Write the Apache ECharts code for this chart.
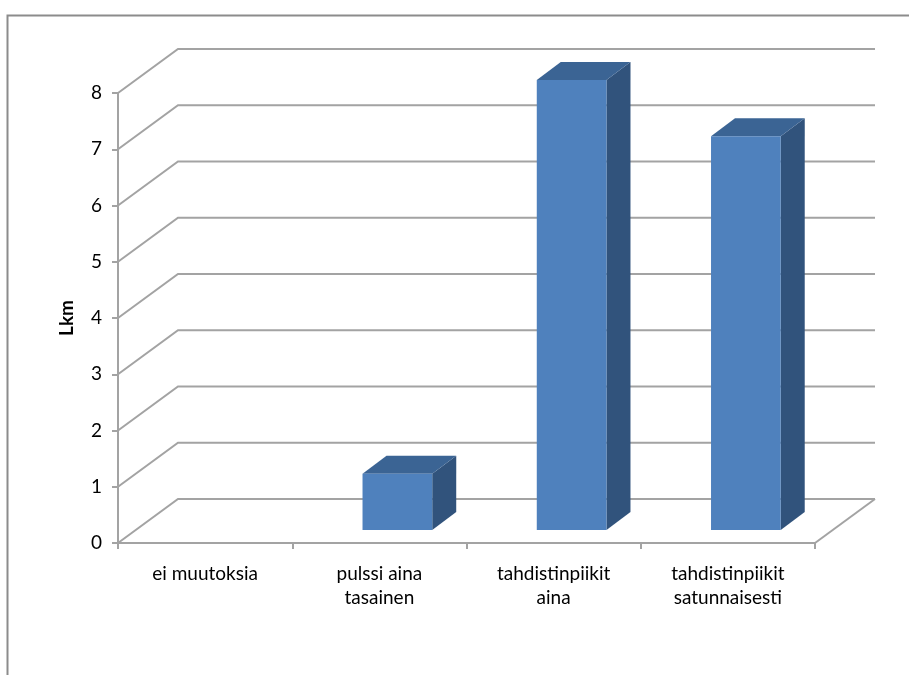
<!DOCTYPE html>
<html>
<head>
<meta charset="utf-8">
<title>Lkm</title>
<script src="https://cdn.jsdelivr.net/npm/echarts@6/dist/echarts.min.js"></script>
<style>
  html, body { margin: 0; padding: 0; background: #fff; }
  #chart { width: 909px; height: 675px; }
</style>
</head>
<body>
<div id="chart"></div>
<script>
// Categories and counts
const categories = [
  'ei muutoksia',
  'pulssi aina\ntasainen',
  'tahdistinpiikit\naina',
  'tahdistinpiikit\nsatunnaisesti'
];
const counts = [0, 1, 8, 7];
const yTicks = [0, 1, 2, 3, 4, 5, 6, 7, 8];

// Pseudo-3D geometry (pixels)
const WALL_DX = 60, WALL_DY = -44;     // depth of the back wall
const BAR_DX = 18, BAR_DY = -13;       // bars sit a little behind the front edge
const BAR_DEPTH_X = 24, BAR_DEPTH_Y = -18;
const GRID_COLOR = '#A3A3A3';
const FONT = 'Lato';

const chart = echarts.init(document.getElementById('chart'));

function renderWall(params, api) {
  const cs = params.coordSys;
  const v = api.value(1);
  const y = api.coord([0, v])[1];
  const x0 = cs.x, x1 = cs.x + cs.width;
  const children = [{
    type: 'polyline',
    shape: { points: [[x0, y], [x0 + WALL_DX, y + WALL_DY], [x1 + WALL_DX, y + WALL_DY]] },
    style: { stroke: GRID_COLOR, lineWidth: 2, fill: null }
  }];
  if (v === 0) {
    children.push({
      type: 'line',
      shape: { x1: x1, y1: y, x2: x1 + WALL_DX, y2: y + WALL_DY },
      style: { stroke: GRID_COLOR, lineWidth: 2 }
    });
  }
  return { type: 'group', children: children };
}

function renderBar(params, api) {
  const cat = api.value(0), v = api.value(1);
  if (!v) return null;
  const base = api.coord([cat, 0]);
  const top = api.coord([cat, v]);
  const bw = api.size([1, 0])[0] * 0.4;
  const cx = base[0] + BAR_DX;
  const l = cx - bw / 2, r = cx + bw / 2;
  const t = top[1] + BAR_DY, b = base[1] + BAR_DY;
  const dx = BAR_DEPTH_X, dy = BAR_DEPTH_Y;
  return {
    type: 'group',
    children: [
      { type: 'polygon', shape: { points: [[r, t], [r + dx, t + dy], [r + dx, b + dy], [r, b]] },
        style: { fill: '#31537C' } },
      { type: 'polygon', shape: { points: [[l, t], [l + dx, t + dy], [r + dx, t + dy], [r, t]] },
        style: { fill: '#3B6494' } },
      { type: 'rect', shape: { x: l, y: t, width: r - l, height: b - t },
        style: { fill: '#4F81BD' } }
    ]
  };
}

chart.setOption({
  animation: false,
  backgroundColor: '#ffffff',
  textStyle: { fontFamily: FONT },
  graphic: [{
    type: 'rect',
    left: 5, top: 13,
    shape: { width: 1000, height: 1000 },
    style: { fill: null, stroke: '#8C8C8C', lineWidth: 2 },
    silent: true
  }],
  grid: { left: 118, top: 93, width: 697, height: 450, containLabel: false },
  xAxis: {
    type: 'category',
    data: categories,
    boundaryGap: true,
    axisLine: { show: true, lineStyle: { color: GRID_COLOR, width: 2 } },
    axisTick: { show: true, length: 6, alignWithLabel: false, lineStyle: { color: GRID_COLOR, width: 2 } },
    axisLabel: { interval: 0, margin: 19, color: '#000', fontSize: 19, lineHeight: 24, fontFamily: FONT },
    splitLine: { show: false }
  },
  yAxis: {
    type: 'value',
    min: 0, max: 8, interval: 1,
    name: 'Lkm',
    nameLocation: 'middle',
    nameGap: 42,
    nameRotate: 90,
    nameTextStyle: { fontWeight: 'bold', fontSize: 19, color: '#000', fontFamily: FONT },
    axisLine: { show: true, lineStyle: { color: GRID_COLOR, width: 2 } },
    axisTick: { show: true, length: 6, lineStyle: { color: GRID_COLOR, width: 2 } },
    axisLabel: { margin: 16, color: '#000', fontSize: 19, fontFamily: FONT },
    splitLine: { show: false }
  },
  series: [
    {
      type: 'custom',
      name: 'wall',
      silent: true,
      clip: false,
      z: 1,
      renderItem: renderWall,
      data: yTicks.map(v => [0, v])
    },
    {
      type: 'custom',
      name: 'Lkm',
      clip: false,
      z: 3,
      renderItem: renderBar,
      data: counts.map((v, i) => [i, v])
    }
  ]
});
</script>
</body>
</html>
